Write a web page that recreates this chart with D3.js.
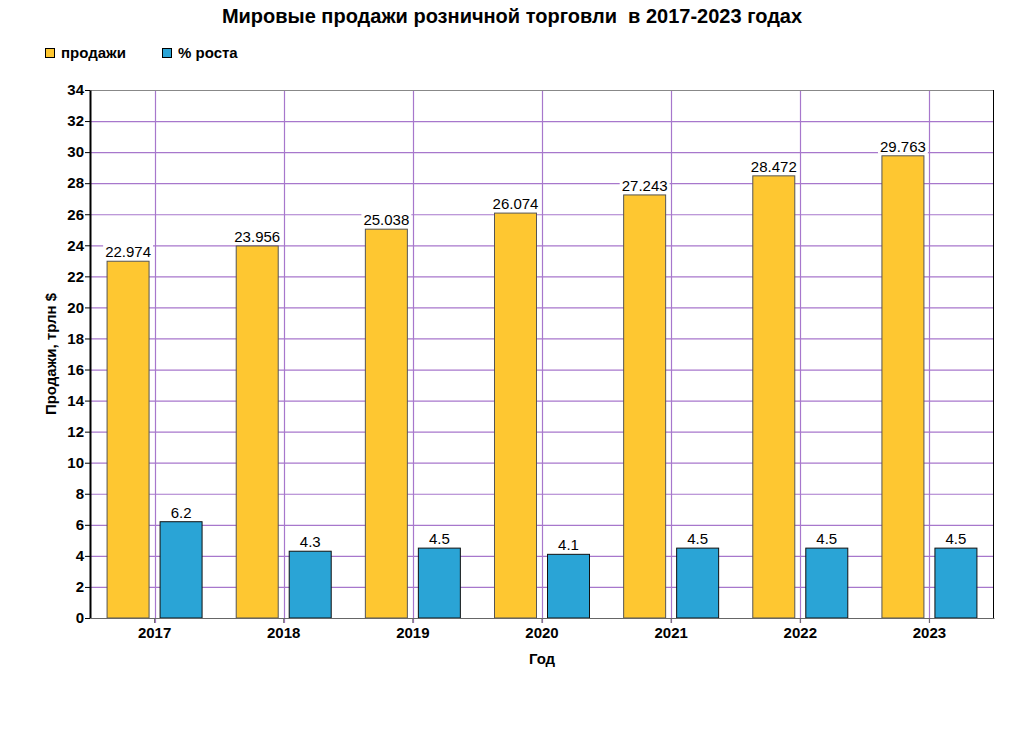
<!DOCTYPE html>
<html>
<head>
<meta charset="utf-8">
<script src="https://cdn.jsdelivr.net/npm/d3@7"></script>
<style>
  body { margin: 0; background: #fff; }
  text { font-family: "Liberation Sans", Arial, sans-serif; fill: #000; }
</style>
</head>
<body>
<div id="chart"></div>
<script>
// data
var years = ["2017", "2018", "2019", "2020", "2021", "2022", "2023"];
var sales = [22.974, 23.956, 25.038, 26.074, 27.243, 28.472, 29.763];
var growth = [6.2, 4.3, 4.5, 4.1, 4.5, 4.5, 4.5];
var yTicks = [0, 2, 4, 6, 8, 10, 12, 14, 16, 18, 20, 22, 24, 26, 28, 30, 32, 34];

var seriesNames = ["продажи", "% роста"];
var seriesColors = ["#fec731", "#2aa4d6"];
var seriesStroke = ["#555", "#111"];

var margin = {top: 90, right: 30, bottom: 135, left: 90},
    width = 1024 - margin.left - margin.right,
    height = 753 - margin.top - margin.bottom;

var svg = d3.select("#chart")
  .append("svg")
    .attr("width", 1024)
    .attr("height", 753);

var g = svg.append("g")
    .attr("transform", "translate(" + margin.left + "," + margin.top + ")");

var x = d3.scaleBand()
  .domain(years)
  .range([0, width]);

var y = d3.scaleLinear()
  .domain([0, 34])
  .range([height, 0]);

// grid
g.selectAll(".hgrid")
  .data(yTicks.slice(1, -1))
  .enter().append("line")
    .attr("x1", 0).attr("x2", width)
    .attr("y1", function(d) { return y(d) + 0.5; })
    .attr("y2", function(d) { return y(d) + 0.5; })
    .attr("stroke", "#a777cc")
    .attr("stroke-width", 1.2);

g.selectAll(".vgrid")
  .data(years)
  .enter().append("line")
    .attr("x1", function(d) { return Math.round(x(d) + x.bandwidth() / 2) + 0.5; })
    .attr("x2", function(d) { return Math.round(x(d) + x.bandwidth() / 2) + 0.5; })
    .attr("y1", 0).attr("y2", height + 5)
    .attr("stroke", "#a777cc")
    .attr("stroke-width", 1.2);

// plot frame
g.append("line").attr("x1", 0).attr("x2", width).attr("y1", 0.5).attr("y2", 0.5)
  .attr("stroke", "#888");
g.append("line").attr("x1", width - 0.5).attr("x2", width - 0.5).attr("y1", 0).attr("y2", height)
  .attr("stroke", "#000");

// bars
var gap = 5.5, barW = 42;
var bars = [sales, growth];
bars.forEach(function(vals, s) {
  g.selectAll(".bar" + s)
    .data(vals)
    .enter().append("rect")
      .attr("x", function(d, i) {
        var c = x(years[i]) + x.bandwidth() / 2;
        return s === 0 ? c - gap - barW : c + gap;
      })
      .attr("y", function(d) { return y(d); })
      .attr("width", barW)
      .attr("height", function(d) { return height - y(d); })
      .attr("fill", seriesColors[s])
      .attr("stroke", seriesStroke[s])
      .attr("stroke-width", 1);

  // value labels with white box
  var lab = g.selectAll(".lab" + s)
    .data(vals)
    .enter().append("g")
      .attr("transform", function(d, i) {
        var c = x(years[i]) + x.bandwidth() / 2;
        var bx = s === 0 ? c - gap - barW / 2 : c + gap + barW / 2;
        return "translate(" + bx + "," + (y(d) - 4) + ")";
      });
  lab.append("text")
    .attr("text-anchor", "middle")
    .style("font-size", "15px")
    .text(function(d) { return s === 0 ? d.toFixed(3) : d.toFixed(1); })
    .each(function() {
      var b = this.getBBox();
      d3.select(this.parentNode).insert("rect", "text")
        .attr("x", b.x - 2).attr("y", b.y + 1)
        .attr("width", b.width + 4).attr("height", b.height - 2)
        .attr("fill", "#fff");
    });
});

// Y axis
var yAxis = g.append("g")
  .call(d3.axisLeft(y).tickValues(yTicks).tickSize(5).tickSizeOuter(0));
yAxis.select(".domain").attr("stroke", "#000").attr("stroke-width", 2);
yAxis.selectAll(".tick line").attr("stroke", "#000");
yAxis.selectAll("text")
  .style("font-size", "15px")
  .style("font-weight", "bold")
  .attr("x", -6);

// X axis
var xAxis = g.append("g")
  .attr("transform", "translate(0," + height + ")")
  .call(d3.axisBottom(x).tickSize(5).tickSizeOuter(0));
xAxis.select(".domain").attr("stroke", "#666");
xAxis.selectAll(".tick line").attr("stroke", "#666");
xAxis.selectAll("text")
  .style("font-size", "15px")
  .style("font-weight", "bold")
  .attr("dy", "0.8em");

// title
svg.append("text")
  .attr("x", 512)
  .attr("y", 23)
  .attr("text-anchor", "middle")
  .style("font-size", "20px")
  .style("font-weight", "bold")
  .attr("xml:space", "preserve")
  .text("Мировые продажи розничной торговли  в 2017-2023 годах");

// axis titles
svg.append("text")
  .attr("x", margin.left + width / 2)
  .attr("y", 664)
  .attr("text-anchor", "middle")
  .style("font-size", "15px")
  .style("font-weight", "bold")
  .text("Год");

svg.append("text")
  .attr("transform", "translate(56," + (margin.top + height / 2) + ")rotate(-90)")
  .attr("text-anchor", "middle")
  .style("font-size", "15px")
  .style("font-weight", "bold")
  .text("Продажи, трлн $");

// legend
var legX = [45, 162];
seriesNames.forEach(function(n, i) {
  svg.append("rect")
    .attr("x", legX[i] + 0.5).attr("y", 48.5)
    .attr("width", 9).attr("height", 9)
    .attr("fill", seriesColors[i])
    .attr("stroke", "#000");
  svg.append("text")
    .attr("x", legX[i] + 16)
    .attr("y", 58)
    .style("font-size", "15px")
    .style("font-weight", "bold")
    .text(n);
});
</script>
</body>
</html>
